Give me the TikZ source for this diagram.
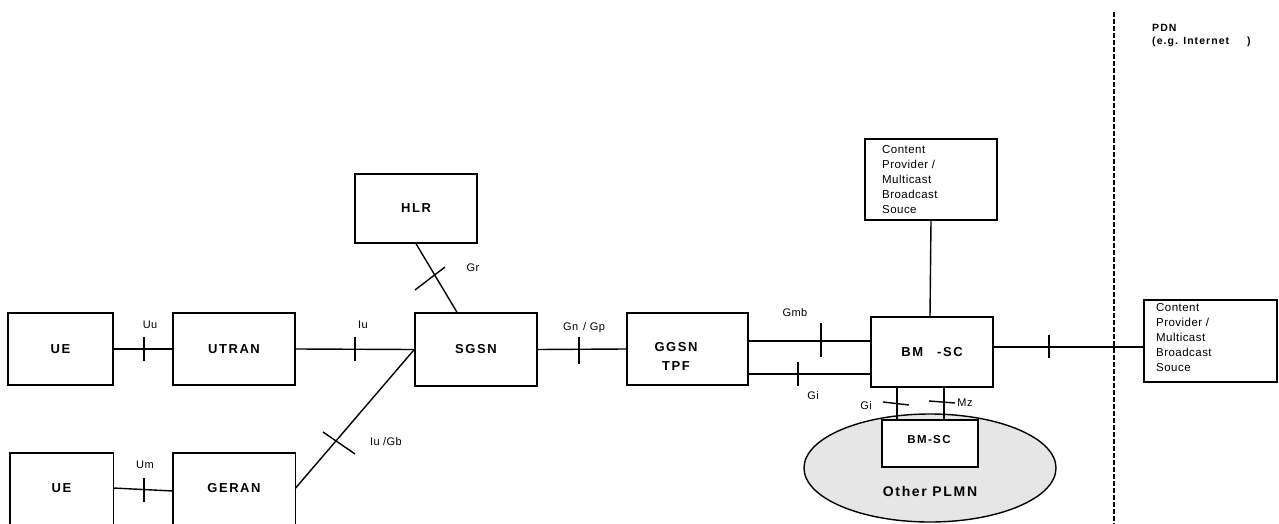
\documentclass[tikz,border=0pt]{standalone}
\usepackage{fontspec}
\setmainfont{Liberation Sans}
\newfontfamily\boxfont{Liberation Sans}[LetterSpace=12]
\newfontfamily\smallfont{Liberation Sans}[LetterSpace=4]
\newfontfamily\pdnfont{Liberation Sans}[LetterSpace=10]
\usetikzlibrary{shapes.geometric}
\definecolor{cloudgray}{HTML}{E6E6E6}
\tikzset{
  netbox/.style={draw, line width=1.4pt, rectangle, inner sep=0pt, font=\boxfont\bfseries\fontsize{13}{15}\selectfont},
  openbox/.style={draw=none, rectangle, inner sep=0pt, font=\boxfont\bfseries\fontsize{13}{15}\selectfont},
  link/.style={line width=1.4pt},
  tick/.style={line width=1.4pt},
  iflabel/.style={font=\smallfont\fontsize{11}{13}\selectfont, inner sep=0pt},
  srctext/.style={font=\smallfont\fontsize{11.5}{15}\selectfont, align=left, inner sep=0pt, anchor=north west}
}
\begin{document}
\begin{tikzpicture}[x=1pt,y=-1pt]
\useasboundingbox (0,0) rectangle (1279,524);

% boxes
\node[netbox, minimum width=105, minimum height=72] (ue1) at (60.5,349) {UE};
\node[netbox, minimum width=122, minimum height=72] (utran) at (234,349) {UTRAN};
\node[openbox, minimum width=103, minimum height=71] (ue2) at (61.5,488.5) {UE};
\draw[line width=1.4pt] (ue2.south west) |- (ue2.north east) -- (ue2.south east);
\node[openbox, minimum width=122, minimum height=71] (geran) at (234,488.5) {GERAN};
\draw[line width=1.4pt] (geran.south west) |- (geran.north east) -- (geran.south east);
\node[netbox, minimum width=122, minimum height=69] (hlr) at (416,208.5) {HLR};
\node[netbox, minimum width=122, minimum height=73] (sgsn) at (476,349.5) {SGSN};
\node[netbox, minimum width=121, minimum height=72] (ggsn) at (687.5,349) {};
\node[font=\boxfont\bfseries\fontsize{13}{19}\selectfont, align=center, inner sep=0pt] (ggsntext) at (676,356) {GGSN\\TPF};
\node[netbox, minimum width=132, minimum height=81] (cp1) at (931,179.5) {};
\node[srctext] (cp1text) at (882,145) {Content\\Provider /\\Multicast\\Broadcast\\Souce};
\node[netbox, minimum width=122, minimum height=70] (bmsc) at (932,352) {BM\hspace{14pt}-SC};
\node[netbox, minimum width=133, minimum height=82] (cp2) at (1210.5,341) {};
\node[srctext] (cp2text) at (1156,303) {Content\\Provider /\\Multicast\\Broadcast\\Souce};

% other PLMN cloud
\node[draw, ellipse, line width=1.4pt, fill=cloudgray, minimum width=252, minimum height=108, inner sep=0pt] (plmn) at (930,468) {};
\node[netbox, fill=white, minimum width=96, minimum height=47] (bmsc2) at (930,443.5) {};
\node[font=\boxfont\bfseries\fontsize{11.5}{13}\selectfont, inner sep=0pt] (bmsc2text) at (929,440) {BM-SC};
\node[font=\boxfont\bfseries\fontsize{14}{16}\selectfont, inner sep=0pt] (plmntext) at (930,491) {Other PLMN};

% connectors
\draw[link] (ue1.east) -- (utran.west);
\draw[tick] (144,337) -- (144,361);
\draw[link] (utran.east) -- (sgsn.west);
\draw[tick] (355,337) -- (355,361);
\draw[link] ([yshift=0.5pt]ue2.east) -- ([yshift=-2.5pt]geran.west);
\draw[tick] (144,478) -- (144,502);
\draw[link] (geran.east) -- (sgsn.west);
\draw[tick] (323,432) -- (355,454);
\draw[link] (hlr.south) -- ([xshift=-19pt]sgsn.north);
\draw[tick] (415,290) -- (445,267);
\draw[link] (sgsn.east) -- (ggsn.west);
\draw[tick] (579,337) -- (579,364);
\draw[link] ([yshift=8pt]ggsn.east) -- ([yshift=11pt]bmsc.west);
\draw[tick] (821,323) -- (821,357);
\draw[link] ([yshift=-25pt]ggsn.east) -- ([yshift=-22pt]bmsc.west);
\draw[tick] (798,362) -- (798,386);
\draw[link] (cp1.south) -- ([xshift=-2pt]bmsc.north);
\draw[link] ([yshift=5pt]bmsc.east) -- ([yshift=-6pt]cp2.west);
\draw[tick] (1049,335) -- (1049,358);
\draw[link] ([xshift=-35pt]bmsc.south) -- ([xshift=-33pt]bmsc2.north);
\draw[tick] (883,402) -- (909,405);
\draw[link] ([xshift=12pt]bmsc.south) -- ([xshift=14pt]bmsc2.north);
\draw[tick] (929,401) -- (955,403);

% PDN boundary
\coordinate (pdntop) at (1114,12);
\coordinate (pdnbottom) at (1114,524);
\draw[line width=2pt, dash pattern=on 5pt off 2pt] (pdntop) -- (pdnbottom);
\node[font=\pdnfont\bfseries\fontsize{10.5}{13}\selectfont, align=left, inner sep=0pt, anchor=north west] (pdn) at (1152,24) {PDN\\(e.g. Internet\hspace{18pt})};

% interface labels
\node[iflabel] (luu) at (150,325) {Uu};
\node[iflabel] (liu) at (363,325) {Iu};
\node[iflabel] (liugb) at (386,442) {Iu /Gb};
\node[iflabel] (lum) at (145,465) {Um};
\node[iflabel] (lgr) at (473,268) {Gr};
\node[iflabel] (lgn) at (584,328) {Gn\hspace{5pt}/ Gp};
\node[iflabel] (lgmb) at (795,313) {Gmb};
\node[iflabel] (lgi) at (813,396) {Gi};
\node[iflabel] (lgi2) at (866,406) {Gi};
\node[iflabel] (lmz) at (965,403) {Mz};
\end{tikzpicture}
\end{document}
